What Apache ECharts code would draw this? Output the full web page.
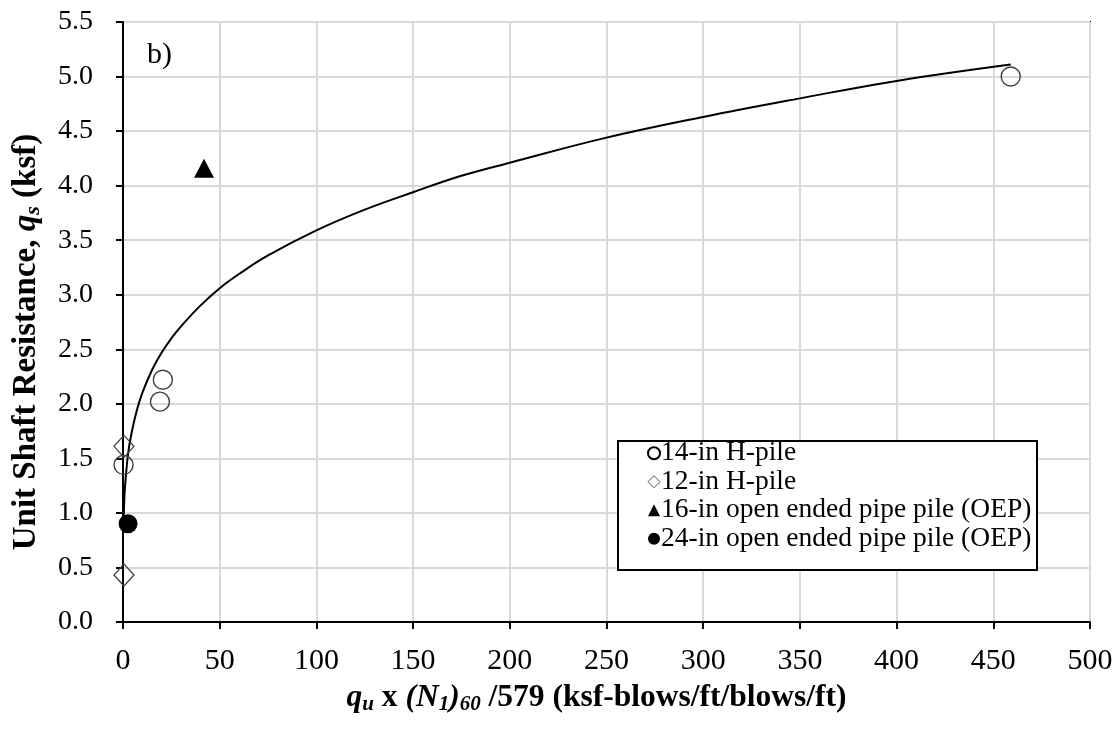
<!DOCTYPE html>
<html>
<head>
<meta charset="utf-8">
<script src="https://cdn.jsdelivr.net/npm/echarts@6/dist/echarts.min.js"></script>
<style>
html,body{margin:0;padding:0;background:#fff;}
#chart{width:1118px;height:735px;}
</style>
</head>
<body>
<div id="chart"></div>
<script>
// ---- data ----
const h14X = [0.3, 19.1, 20.6, 459];
const h14Y = [1.44, 2.02, 2.22, 5.00];
const h12X = [0.5, 0.5];
const h12Y = [1.61, 0.43];
const oep16X = [41.9];
const oep16Y = [4.16];
const oep24X = [2.6];
const oep24Y = [0.90];
const curveX = [0.3, 0.6, 1, 2, 3, 5, 7, 10, 15, 20, 25, 30, 40, 50, 60, 75, 100, 125, 150, 175, 200, 250, 300, 350, 400, 459];
const curveY = [0.93, 1.09, 1.23, 1.44, 1.59, 1.78, 1.93, 2.10, 2.31, 2.47, 2.60, 2.71, 2.90, 3.06, 3.19, 3.36, 3.59, 3.78, 3.94, 4.09, 4.21, 4.44, 4.63, 4.80, 4.96, 5.11];
const seriesNames = ['14-in H-pile', '12-in H-pile', '16-in open ended pipe pile (OEP)', '24-in open ended pipe pile (OEP)'];
const xTicks = {min: 0, max: 500, interval: 50};
const yTicks = {min: 0, max: 5.5, interval: 0.5};

const zip = (xs, ys) => xs.map((x, i) => [x, ys[i]]);
const FONT = '"Liberation Serif", "Times New Roman", serif';

function richSet(T, S, pad) {
  return {
    b: {fontFamily: FONT, fontSize: T, fontWeight: 'bold', color: '#000', lineHeight: 38},
    qi: {fontFamily: FONT, fontSize: T, fontWeight: 'bold', fontStyle: 'italic', color: '#000', lineHeight: 38},
    i: {fontFamily: FONT, fontSize: T, fontWeight: 'bold', fontStyle: 'italic', color: '#000', lineHeight: 38},
    sub: {fontFamily: FONT, fontSize: S, fontWeight: 'bold', fontStyle: 'italic', color: '#000', lineHeight: 38, padding: [pad, 0, 0, 0]},
    isub: {fontFamily: FONT, fontSize: S, fontWeight: 'bold', fontStyle: 'italic', color: '#000', lineHeight: 38, padding: [pad, 0, 0, 0]}
  };
}

const chart = echarts.init(document.getElementById('chart'), null, {renderer: 'canvas'});
const option = {
  animation: false,
  backgroundColor: '#fff',
  grid: {left: 123, right: 28, top: 22, bottom: 113, show: true, borderColor: '#000', borderWidth: 2, backgroundColor: 'transparent'},
  xAxis: {
    type: 'value', min: xTicks.min, max: xTicks.max, interval: xTicks.interval,
    axisLine: {show: true, onZero: false, lineStyle: {color: '#000', width: 2}},
    axisTick: {show: true, inside: false, length: 7, lineStyle: {color: '#000', width: 2}},
    axisLabel: {color: '#000', fontFamily: FONT, fontSize: 30, margin: 24},
    splitLine: {show: true, lineStyle: {color: '#d9d9d9', width: 2}},
    nameLocation: 'middle', nameGap: 47,
    name: '{qi|q}{sub|u}{b| x }{i|(N}{isub|1}{i|)}{isub|60}{b| /579 (ksf-blows/ft/blows/ft)}',
    nameTextStyle: {
      fontFamily: FONT, fontSize: 31.5, fontWeight: 'bold', color: '#000', padding: [0, 20, 0, 0],
      rich: richSet(31.5, 21, 13)
    }
  },
  yAxis: {
    type: 'value', min: yTicks.min, max: yTicks.max, interval: yTicks.interval,
    axisLine: {show: true, onZero: false, lineStyle: {color: '#000', width: 2}},
    axisTick: {show: true, inside: false, length: 7, lineStyle: {color: '#000', width: 2}},
    axisLabel: {color: '#000', fontFamily: FONT, fontSize: 28, margin: 30, formatter: v => v.toFixed(1)},
    splitLine: {show: true, lineStyle: {color: '#d9d9d9', width: 2}},
    nameLocation: 'middle', nameGap: 78, nameRotate: 90,
    name: '{b|Unit Shaft Resistance, }{qi|q}{sub|s}{b| (ksf)}',
    nameTextStyle: {
      fontFamily: FONT, fontSize: 33, fontWeight: 'bold', color: '#000', padding: [0, 40, 0, 0],
      rich: richSet(33, 22, 14)
    }
  },
  legend: {
    orient: 'vertical', left: 647, top: 439, z: 10, padding: 0,
    itemWidth: 12, itemHeight: 12, itemGap: 0,
    textStyle: {fontFamily: FONT, fontSize: 27.5, color: '#000', lineHeight: 28.5, padding: [0, 0, 0, -4]},
    data: [
      {name: seriesNames[0], icon: 'circle', itemStyle: {color: '#fff', borderColor: '#000', borderWidth: 2, opacity: 1}},
      {name: seriesNames[1], icon: 'diamond', itemStyle: {color: '#fff', borderColor: '#555', borderWidth: 1, opacity: 1}},
      {name: seriesNames[2], icon: 'triangle', itemStyle: {color: '#000', borderWidth: 0, opacity: 1}},
      {name: seriesNames[3], icon: 'circle', itemStyle: {color: '#000', borderWidth: 0, opacity: 1}}
    ]
  },
  graphic: [
    {type: 'rect', z: 5, shape: {x: 618, y: 441, width: 419, height: 129}, style: {fill: '#fff', stroke: '#000', lineWidth: 2}},
    {type: 'text', z: 5, left: 147, top: 40, style: {text: 'b)', fontFamily: FONT, fontSize: 30, fill: '#000'}}
  ],
  series: [
    {type: 'line', name: 'fit', data: zip(curveX, curveY), smooth: 0.4, showSymbol: false, symbol: 'none',
     lineStyle: {color: '#000', width: 2}, z: 3},
    {type: 'scatter', name: seriesNames[0], data: zip(h14X, h14Y), symbol: 'circle', symbolSize: 19,
     itemStyle: {color: 'rgba(0,0,0,0)', borderColor: '#404040', borderWidth: 1.4, opacity: 1}, z: 4},
    {type: 'scatter', name: seriesNames[1], data: zip(h12X, h12Y), symbol: 'diamond', symbolSize: [20, 22],
     itemStyle: {color: 'rgba(0,0,0,0)', borderColor: '#404040', borderWidth: 1.3, opacity: 1}, z: 4},
    {type: 'scatter', name: seriesNames[2], data: zip(oep16X, oep16Y), symbol: 'triangle', symbolSize: [20, 19],
     itemStyle: {color: '#000', opacity: 1}, z: 4},
    {type: 'scatter', name: seriesNames[3], data: zip(oep24X, oep24Y), symbol: 'circle', symbolSize: 19,
     itemStyle: {color: '#000', opacity: 1}, z: 4}
  ]
};
chart.setOption(option);
</script>
</body>
</html>
